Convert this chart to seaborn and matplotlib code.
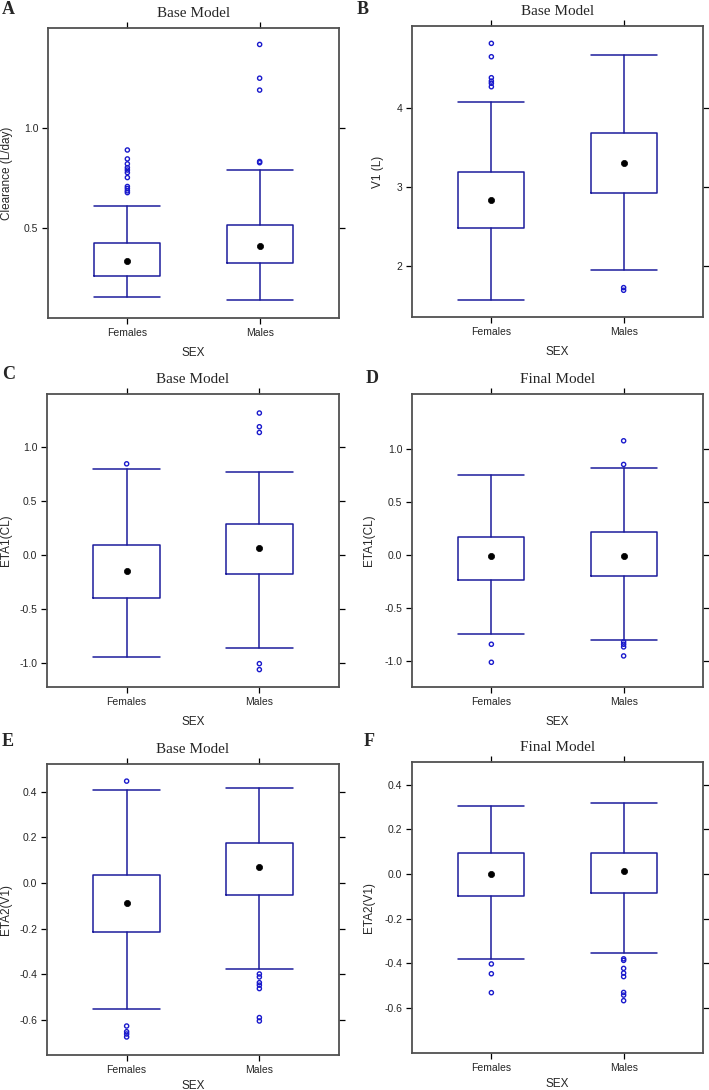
import numpy as np
import pandas as pd
import matplotlib
matplotlib.use('Agg')
import matplotlib.pyplot as plt
import seaborn as sns

# -----------------------------
# Data
# -----------------------------
groups = ['Females', 'Males']

# A: clearance, base model
a_q1 = [0.257, 0.321]
a_med = [0.331, 0.408]
a_q3 = [0.422, 0.515]
a_lo = [0.150, 0.133]
a_hi = [0.609, 0.789]
a_out_f = [0.891, 0.846, 0.821, 0.802, 0.790, 0.777, 0.752, 0.707, 0.697, 0.685, 0.676]
a_out_m = [1.423, 1.253, 1.193, 0.833, 0.827]

# B: V1, base model
b_q1 = [2.480, 2.926]
b_med = [2.841, 3.308]
b_q3 = [3.193, 3.690]
b_lo = [1.567, 1.941]
b_hi = [4.076, 4.679]
b_out_f = [4.828, 4.658, 4.391, 4.348, 4.320, 4.276]
b_out_m = [1.720, 1.686]

# C: ETA1(CL), base model
c_q1 = [-0.399, -0.179]
c_med = [-0.148, 0.062]
c_q3 = [0.090, 0.291]
c_lo = [-0.946, -0.859]
c_hi = [0.794, 0.767]
c_out_f = [0.844]
c_out_m = [1.314, 1.187, 1.134, -1.005, -1.060]

# D: ETA1(CL), final model
d_q1 = [-0.239, -0.202]
d_med = [-0.013, -0.006]
d_q3 = [0.167, 0.214]
d_lo = [-0.743, -0.803]
d_hi = [0.750, 0.822]
d_out_f = [-0.841, -1.011]
d_out_m = [1.077, 0.854, -0.819, -0.841, -0.866, -0.951]

# E: ETA2(V1), base model
e_q1 = [-0.216, -0.054]
e_med = [-0.088, 0.069]
e_q3 = [0.034, 0.178]
e_lo = [-0.550, -0.377]
e_hi = [0.409, 0.415]
e_out_f = [0.447, -0.626, -0.651, -0.661, -0.674]
e_out_m = [-0.398, -0.411, -0.436, -0.447, -0.462, -0.589, -0.604]

# F: ETA2(V1), final model
f_q1 = [-0.097, -0.085]
f_med = [0.000, 0.012]
f_q3 = [0.094, 0.093]
f_lo = [-0.384, -0.355]
f_hi = [0.304, 0.319]
f_out_f = [-0.404, -0.448, -0.533]
f_out_m = [-0.381, -0.388, -0.424, -0.445, -0.461, -0.532, -0.544, -0.569]

# -----------------------------
# Style
# -----------------------------
sns.set_theme(style='ticks')
plt.rcParams['font.family'] = ['Liberation Sans', 'DejaVu Sans']

box_col = '#1c1c9c'
pt_col = '#1a1acc'
frame_col = '#505050'

W, H = 709, 1090
fig = plt.figure(figsize=(W / 100, H / 100), dpi=100)


def px_axes(left, top, right, bottom):
    return fig.add_axes([left / W, 1 - bottom / H, (right - left) / W, (bottom - top) / H])


def draw_panel(ax, q1, med, q3, lo, hi, out_f, out_m, ylim, yticks, fmt, ylabel, title,
               ylab_x, xlab_y=-0.1):
    pos = [0, 1]
    stats = []
    for i in range(2):
        stats.append(dict(q1=q1[i], med=med[i], q3=q3[i], whislo=lo[i], whishi=hi[i], fliers=[]))
    ax.bxp(stats, positions=pos, widths=0.5, capwidths=0.5, showfliers=False,
           boxprops=dict(color=box_col, linewidth=1.1),
           whiskerprops=dict(color=box_col, linewidth=1.1, linestyle='-'),
           capprops=dict(color=box_col, linewidth=1.1),
           medianprops=dict(linewidth=0), manage_ticks=False)

    # medians as black dots
    med_df = pd.DataFrame({'x': pos, 'y': med})
    sns.scatterplot(data=med_df, x='x', y='y', ax=ax, color='black', s=20,
                    edgecolor='black', linewidth=0.5, zorder=5)

    # outliers as open circles
    fl = pd.DataFrame({'x': [0] * len(out_f) + [1] * len(out_m), 'y': out_f + out_m})
    sns.scatterplot(data=fl, x='x', y='y', ax=ax, s=9, facecolor='none',
                    edgecolor=pt_col, linewidth=1.0, zorder=4)

    ax.set_xlim(-0.6, 1.6)
    ax.set_ylim(*ylim)
    ax.set_xticks(pos)
    ax.set_xticklabels(groups, fontsize=7.5)
    ax.set_yticks(yticks)
    ax.set_yticklabels([fmt % t for t in yticks], fontsize=7.5)
    ax.tick_params(axis='both', which='both', direction='out', length=4, width=0.9,
                   color='black', top=True, right=True, labeltop=False, labelright=False, pad=3)
    for s in ax.spines.values():
        s.set_visible(True)
        s.set_color(frame_col)
        s.set_linewidth(1.3)
    ax.set_xlabel('SEX', fontsize=8.5)
    ax.xaxis.set_label_coords(0.5, xlab_y)
    ax.set_ylabel(ylabel, fontsize=8.5)
    ax.yaxis.set_label_coords(ylab_x, 0.5)
    ax.set_title(title, fontsize=11, family='Liberation Serif', pad=8)


axA = px_axes(48, 28, 339, 318)
draw_panel(axA, a_q1, a_med, a_q3, a_lo, a_hi, a_out_f, a_out_m,
           (0.044, 1.506), [0.5, 1.0], '%.1f', 'Clearance (L/day)', 'Base Model', -0.12)

axB = px_axes(412, 26, 703, 317)
draw_panel(axB, b_q1, b_med, b_q3, b_lo, b_hi, b_out_f, b_out_m,
           (1.346, 5.049), [2, 3, 4], '%d', 'V1 (L)', 'Base Model', -0.096)

axC = px_axes(47, 394, 339, 687)
draw_panel(axC, c_q1, c_med, c_q3, c_lo, c_hi, c_out_f, c_out_m,
           (-1.221, 1.490), [-1.0, -0.5, 0.0, 0.5, 1.0], '%.1f', 'ETA1(CL)', 'Base Model', -0.12)

axD = px_axes(412, 394, 703, 687)
draw_panel(axD, d_q1, d_med, d_q3, d_lo, d_hi, d_out_f, d_out_m,
           (-1.244, 1.518), [-1.0, -0.5, 0.0, 0.5, 1.0], '%.1f', 'ETA1(CL)', 'Final Model', -0.127)

axE = px_axes(47, 764, 339, 1055)
draw_panel(axE, e_q1, e_med, e_q3, e_lo, e_hi, e_out_f, e_out_m,
           (-0.753, 0.522), [-0.6, -0.4, -0.2, 0.0, 0.2, 0.4], '%.1f', 'ETA2(V1)', 'Base Model',
           -0.12, xlab_y=-0.085)

axF = px_axes(412, 762, 703, 1053)
draw_panel(axF, f_q1, f_med, f_q3, f_lo, f_hi, f_out_f, f_out_m,
           (-0.804, 0.503), [-0.6, -0.4, -0.2, 0.0, 0.2, 0.4], '%.1f', 'ETA2(V1)', 'Final Model',
           -0.127, xlab_y=-0.085)

# panel letters
letters = [('A', 2, 1), ('B', 357, 1), ('C', 2, 366), ('D', 366, 370), ('E', 2, 733), ('F', 364, 733)]
for lab, x, y in letters:
    fig.text(x / W, 1 - y / H, lab, fontsize=13, fontweight='bold', family='Liberation Serif',
             ha='left', va='top')

fig.savefig('out.png', dpi=100)
